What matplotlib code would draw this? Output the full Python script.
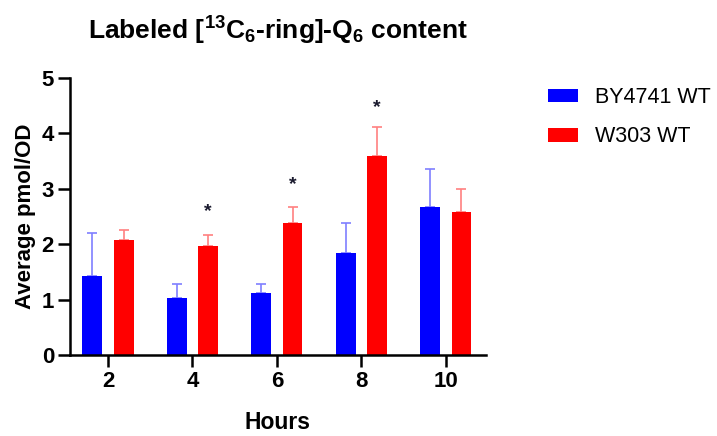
import matplotlib
matplotlib.use("Agg")
import matplotlib.pyplot as plt
import numpy as np

hours = [2, 4, 6, 8, 10]
by4741_mean = [1.43, 1.02, 1.11, 1.85, 2.68]
by4741_err = [0.77, 0.26, 0.17, 0.53, 0.68]
w303_mean = [2.08, 1.96, 2.39, 3.59, 2.59]
w303_err = [0.18, 0.21, 0.28, 0.53, 0.41]
significant = [False, True, True, True, False]
star_y = [None, 2.59, 3.07, 4.46, None]

plt.rcParams['font.family'] = ['Liberation Sans', 'DejaVu Sans']
plt.rcParams['mathtext.fontset'] = 'custom'
plt.rcParams['mathtext.bf'] = 'Liberation Sans:bold'
plt.rcParams['mathtext.rm'] = 'Liberation Sans:bold'
plt.rcParams['mathtext.default'] = 'bf'

fig = plt.figure(figsize=(7.17, 4.36), dpi=100)
ax = fig.add_axes([0.0976, 0.1858, 0.5802, 0.6353])

x = np.array(hours, dtype=float)
off = 0.37
w = 0.47
blue = '#0000ff'
red = '#ff0000'

ax.bar(x - off, by4741_mean, width=w, color=blue, label='BY4741 WT', zorder=2)
ax.bar(x + off, w303_mean, width=w, color=red, label='W303 WT', zorder=2)

err_kw = dict(fmt='none', capsize=3.6, elinewidth=1.2, capthick=1.2, zorder=1)
ax.errorbar(x - off, by4741_mean, yerr=[np.zeros(5), by4741_err],
            ecolor='#7f7fff', **err_kw)
ax.errorbar(x + off, w303_mean, yerr=[np.zeros(5), w303_err],
            ecolor='#ff8080', **err_kw)

for xi, sig, sy in zip(x, significant, star_y):
    if sig:
        ax.text(xi + off, sy, '*', ha='center', va='center', fontsize=14,
                fontweight='bold', color='#1a1a2e')

ax.set_xlim(1.1, 10.95)
ax.set_ylim(0, 5)
ax.set_xticks(hours)
ax.set_yticks([0, 1, 2, 3, 4, 5])
for s in ['top', 'right']:
    ax.spines[s].set_visible(False)
for s in ['left', 'bottom']:
    ax.spines[s].set_linewidth(1.8)
ax.tick_params(axis='both', length=8.5, width=1.8, labelsize=16, pad=3)
for lab in ax.get_xticklabels() + ax.get_yticklabels():
    lab.set_fontweight('bold')

ax.set_xlabel('Hours', fontsize=16.5, fontweight='bold', labelpad=14)
ax.set_ylabel('Average pmol/OD', fontsize=16, fontweight='bold', labelpad=4)
ax.set_title(r'Labeled [$^{13}$C$_6$-ring]-Q$_6$ content', fontsize=19,
             fontweight='bold', pad=28)

leg = ax.legend(loc='upper left', bbox_to_anchor=(1.149, 0.967), frameon=False,
                fontsize=15.5, handlelength=1.4, handleheight=0.6,
                handletextpad=0.8, labelspacing=0.85, borderpad=0,
                borderaxespad=0)

fig.savefig('out.png', dpi=100)
